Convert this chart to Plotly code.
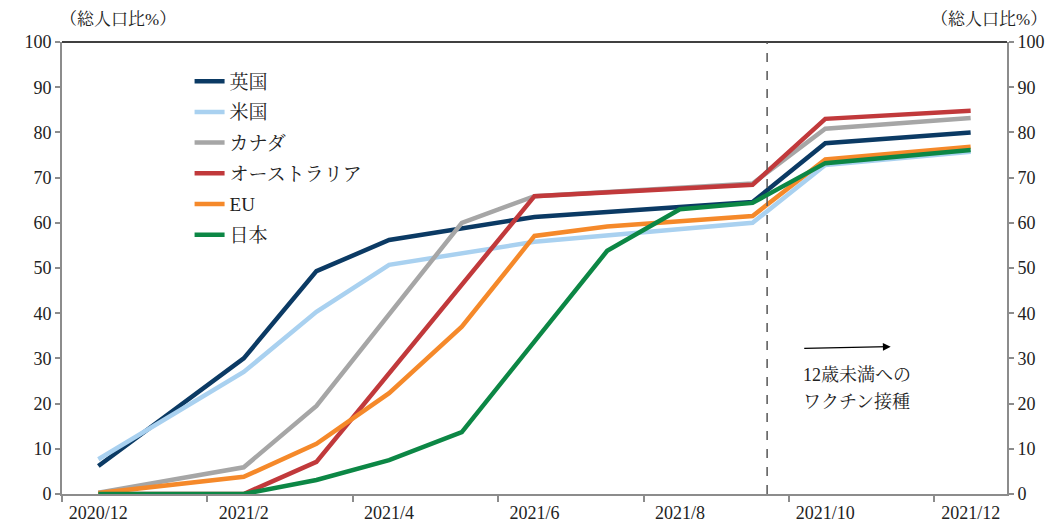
import plotly.graph_objects as go

# Monthly categories (2020/12 .. 2021/12); None = month without an observation
months = ["2020/12", "2021/1", "2021/2", "2021/3", "2021/4", "2021/5", "2021/6",
          "2021/7", "2021/8", "2021/9", "2021/10", "2021/11", "2021/12"]
tick_labels = ["2020/12", "2021/2", "2021/4", "2021/6", "2021/8", "2021/10", "2021/12"]

uk = [6.2, None, 30.0, 49.3, 56.2, None, 61.3, None, None, 64.6, 77.6, None, 80.0]
us = [7.7, None, 27.0, 40.3, 50.7, None, 55.8, None, None, 60.0, 72.8, None, 75.7]
canada = [0.3, None, 5.9, 19.5, None, 60.0, 65.9, None, None, 68.7, 80.8, None, 83.2]
australia = [0.0, None, 0.0, 7.1, None, None, 65.9, None, None, 68.4, 83.0, None, 84.8]
eu = [0.2, None, 3.8, 11.1, 22.3, 37.0, 57.1, 59.2, None, 61.5, 74.0, None, 76.8]
japan = [0.0, None, 0.0, 3.1, 7.5, 13.7, None, 53.8, 63.0, 64.4, 73.2, None, 76.1]

series = [
    ("英国", uk, "#0b3a64"),
    ("米国", us, "#a9d1f0"),
    ("カナダ", canada, "#a6a6a6"),
    ("オーストラリア", australia, "#c1393b"),
    ("EU", eu, "#f5892a"),
    ("日本", japan, "#0c8745"),
]

# Start of vaccination for under-12s (between 2021/9 and 2021/10)
marker_pos = 9.2
note_lines = ["12歳未満への", "ワクチン接種"]

FONT = "Liberation Serif, Noto Serif CJK JP, Noto Sans CJK JP, serif"
AXIS_GRAY = "#8c8c8c"
TXT = "#222"

x_idx = list(range(len(months)))

fig = go.Figure()
for name, vals, color in series:
    fig.add_trace(go.Scatter(
        x=x_idx, y=vals, name=name, mode="lines", connectgaps=True,
        legendgroup=name,
        line=dict(color=color, width=4.5),
        customdata=months, hovertemplate="%{customdata}: %{y}<extra>" + name + "</extra>",
    ))

fig.update_layout(
    width=1062, height=525,
    margin=dict(l=62, r=55, t=42, b=31, autoexpand=False),
    paper_bgcolor="white", plot_bgcolor="white",
    font=dict(family=FONT, size=18, color=TXT),
    showlegend=True,
    legend=dict(x=0.135, y=0.955, xanchor="left", yanchor="top",
                bgcolor="rgba(0,0,0,0)", tracegroupgap=3,
                font=dict(family=FONT, size=19, color=TXT)),
    xaxis=dict(
        range=[-0.5, len(months) - 0.5], automargin=False,
        tickmode="array",
        tickvals=[months.index(t) for t in tick_labels],
        ticktext=tick_labels,
        ticks="", showgrid=False, zeroline=False, ticklabelstandoff=1,
        showline=True, linecolor=AXIS_GRAY, linewidth=2,
        tickfont=dict(family=FONT, size=18, color=TXT),
        minor=dict(tickmode="linear", tick0=-0.5, dtick=2, ticks="outside",
                   ticklen=6, tickwidth=1.5, tickcolor=AXIS_GRAY, showgrid=False),
    ),
    yaxis=dict(
        range=[0, 100], dtick=10, ticks="outside", ticklen=5, tickwidth=1.5,
        automargin=False,
        tickcolor=AXIS_GRAY, showgrid=False, zeroline=False,
        showline=True, linecolor=AXIS_GRAY, linewidth=2,
        tickfont=dict(family=FONT, size=18, color=TXT),
    ),
    yaxis2=dict(
        range=[0, 100], dtick=10, overlaying="y", side="right", matches="y",
        automargin=False,
        ticks="outside", ticklen=5, tickwidth=1.5, tickcolor=AXIS_GRAY,
        showgrid=False, zeroline=False,
        showline=True, linecolor=AXIS_GRAY, linewidth=2,
        tickfont=dict(family=FONT, size=18, color=TXT),
    ),
)

# keep the right-hand axis alive with the same data on it, hidden
fig.add_trace(go.Scatter(x=x_idx, y=uk, yaxis="y2", mode="lines", connectgaps=True,
                         line=dict(width=0), showlegend=False, hoverinfo="skip"))

# black top frame line
fig.add_shape(type="line", xref="paper", yref="paper", x0=0, x1=1, y0=1, y1=1,
              line=dict(color="black", width=1.5))

# dashed marker line
fig.add_shape(type="line", xref="x", yref="y", x0=marker_pos, x1=marker_pos,
              y0=0, y1=100, line=dict(color="#555", width=1.5, dash="dash"))

# arrow and note
fig.add_annotation(x=10.9, y=32.6, ax=9.69, ay=32.2, xref="x", yref="y",
                   axref="x", ayref="y", text="", showarrow=True,
                   arrowhead=2, arrowsize=1.3, arrowwidth=1.2, arrowcolor="black")
for line_text, y_pos in zip(note_lines, [26.3, 20.3]):
    fig.add_annotation(x=9.66, y=y_pos, xref="x", yref="y", xanchor="left",
                       yanchor="middle", text=line_text, showarrow=False, align="left",
                       font=dict(family=FONT, size=18, color=TXT))

# unit labels on both sides
fig.add_annotation(x=0.0, y=1.0, xref="paper", yref="paper", yshift=34, xshift=-4,
                   xanchor="left", yanchor="top", text="（総人口比%）", showarrow=False,
                   font=dict(family=FONT, size=17, color=TXT))
fig.add_annotation(x=1.0, y=1.0, xref="paper", yref="paper", yshift=34, xshift=42,
                   xanchor="right", yanchor="top", text="（総人口比%）", showarrow=False,
                   font=dict(family=FONT, size=17, color=TXT))

fig.write_html("out.html")
